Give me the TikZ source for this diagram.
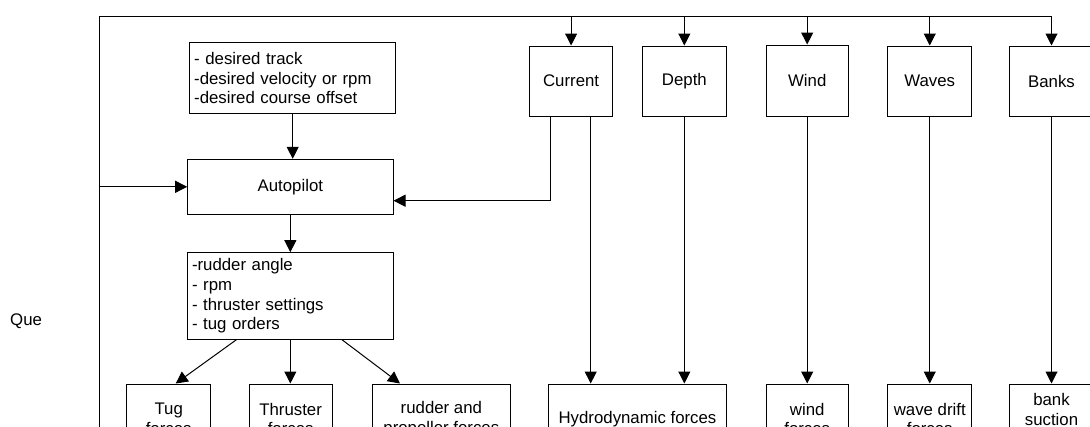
\documentclass[tikz,border=0pt]{standalone}
\usepackage{fontspec}
\setmainfont{Liberation Sans}
\usetikzlibrary{arrows.meta}
\begin{document}
\begin{tikzpicture}[x=1pt,y=-1pt,
  every node/.style={font=\fontsize{16.8}{19.7}\selectfont, inner sep=0pt},
  box/.style={draw, line width=1pt, minimum height=70pt, align=center},
  arr/.style={line width=1pt, -{Triangle[length=12pt,width=12pt]}},
  ln/.style={line width=1pt}]
\useasboundingbox (0,0) rectangle (1090,426);
\fill[white] (0,0) rectangle (1090,426);
\clip (0,0) rectangle (1090,426);
% left block
\node[box, minimum width=206pt, minimum height=70.6pt, text width=197pt, align=left, inner xsep=4.5pt] (des) at (292.7,78) {- desired track\\-desired velocity or rpm\\-desired course offset};
\node[box, minimum width=205.3pt, minimum height=55pt] (ap) at (290.35,186.8) {Autopilot};
\node[box, minimum width=205.3pt, minimum height=86.3pt, text width=196.7pt, align=left, inner xsep=4.3pt] (ctrl) at (290.35,295.85) {-rudder angle\\- rpm\\- thruster settings\\- tug orders};
% top boxes
\node[box, minimum width=83.6pt] (cur) at (571.1,81) {Current};
\node[box, minimum width=83.6pt] (depth) at (684.35,81) {Depth};
\node[box, minimum width=82.4pt, minimum height=71pt] (wind) at (807.2,80.5) {Wind};
\node[box, minimum width=83.6pt] (waves) at (929.75,81) {Waves};
\node[box, minimum width=83.6pt] (banks) at (1051.5,81) {Banks};
% bottom boxes
\node[box, minimum width=84pt] (tug) at (168.7,419) {Tug\\forces};
\node[box, minimum width=83.3pt] (thr) at (290.65,419) {Thruster\\forces};
\node[box, minimum width=137.3pt] (rud) at (441.35,419) {rudder and\\propeller forces};
\node[box, minimum width=177.2pt] (hyd) at (637.5,419) {Hydrodynamic forces};
\node[box, minimum width=82.4pt] (windf) at (807.2,419) {wind\\forces};
\node[box, minimum width=83.6pt] (wavef) at (929.75,419) {wave drift\\forces};
\node[box, minimum width=83.6pt] (bankf) at (1051.5,419) {bank\\suction\\forces};
\node[anchor=west] (que) at (10,321) {Que};
% feedback loop
\coordinate (tl) at (99.3,16.5);
\coordinate (bl) at (99.3,440);
\draw[ln] (bl) -- (tl) -- (tl -| banks.north);
\foreach \n in {cur,depth,wind,waves,banks} \draw[arr] (tl -| \n.north) -- (\n.north);
\draw[arr] (bl |- ap.west) -- (ap.west);
% left chain
\draw[arr] (des.south) -- (des.south |- ap.north);
\draw[arr] (ap.south) -- (ap.south |- ctrl.north);
\coordinate (c0) at ([xshift=-21.1pt]cur.south);
\coordinate (a0) at ([yshift=-13.9pt]ap.east);
\draw[arr] (c0) |- (a0);
\coordinate (c1) at ([xshift=19.6pt]cur.south);
\draw[arr] (c1) -- (c1 |- hyd.north);
\draw[arr] (depth.south) -- (depth.south |- hyd.north);
\draw[arr] (wind.south) -- (windf.north);
\draw[arr] (waves.south) -- (wavef.north);
\draw[arr] (banks.south) -- (bankf.north);
% outputs of control box
\coordinate (s1) at ([xshift=-53.65pt]ctrl.south);
\coordinate (e1) at ([xshift=7pt]tug.north);
\draw[arr] (s1) -- (e1);
\draw[arr] (ctrl.south) -- (ctrl.south |- thr.north);
\coordinate (s3) at ([xshift=51.35pt]ctrl.south);
\coordinate (e3) at ([xshift=-41.35pt]rud.north);
\draw[arr] (s3) -- (e3);
\end{tikzpicture}
\end{document}
